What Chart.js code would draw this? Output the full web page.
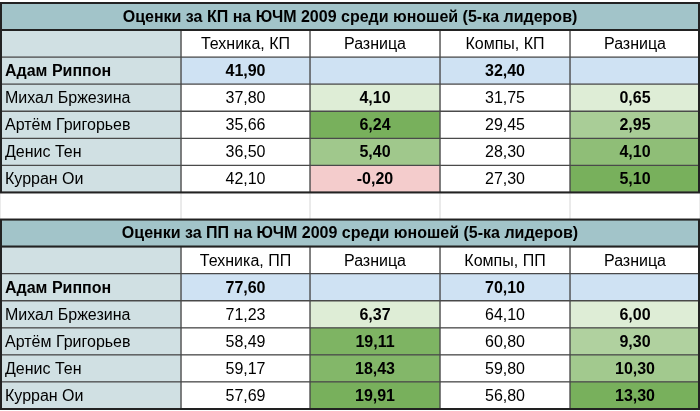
<!DOCTYPE html>
<html>
<head>
<meta charset="utf-8">
<script src="https://cdn.jsdelivr.net/npm/chart.js@4"></script>
<style>
  html, body { margin: 0; padding: 0; background: #fff; }
  #wrap { width: 700px; height: 411px; }
</style>
</head>
<body>
<div id="wrap"><canvas id="tbl"></canvas></div>
<script>
// table data
const titles = ['Оценки за КП на ЮЧМ 2009 среди юношей (5-ка лидеров)', 'Оценки за ПП на ЮЧМ 2009 среди юношей (5-ка лидеров)'];
const headersKP = ['', 'Техника, КП', 'Разница', 'Компы, КП', 'Разница'];
const headersPP = ['', 'Техника, ПП', 'Разница', 'Компы, ПП', 'Разница'];
const names = ['Адам Риппон', 'Михал Бржезина', 'Артём Григорьев', 'Денис Тен', 'Курран Ои'];
const kpTech = [41.90, 37.80, 35.66, 36.50, 42.10];
const kpTechDiff = [null, 4.10, 6.24, 5.40, -0.20];
const kpComp = [32.40, 31.75, 29.45, 28.30, 27.30];
const kpCompDiff = [null, 0.65, 2.95, 4.10, 5.10];
const ppTech = [77.60, 71.23, 58.49, 59.17, 57.69];
const ppTechDiff = [null, 6.37, 19.11, 18.43, 19.91];
const ppComp = [70.10, 64.10, 60.80, 59.80, 56.80];
const ppCompDiff = [null, 6.00, 9.30, 10.30, 13.30];

const colEdges = [0, 181, 310, 440, 570, 700];
const nRows = 15;
const rowLabels = Array.from({length: nRows}, (_, i) => 'r' + i);

function fmt(v) { return v == null ? '' : v.toFixed(2).replace('.', ','); }

// green scale per column, like the sheet's conditional formatting
function greenFor(v, arr) {
  if (v < 0) return '#f4cccc';
  const vals = arr.filter(x => x != null && x >= 0);
  const mn = Math.min(...vals), mx = Math.max(...vals);
  const t = mx > mn ? (v - mn) / (mx - mn) : 0;
  const a = [222, 237, 214], b = [120, 176, 92];
  const c = a.map((q, k) => Math.round(q + (b[k] - q) * t));
  return 'rgb(' + c.join(',') + ')';
}

// cells[row][col] = {text, bg, bold}
const cells = [];
function addBlock(title, headers, cols, start) {
  cells[start] = {title: {text: title, bg: '#a2c4c9', bold: true}};
  cells[start + 1] = headers.map(h => ({text: h, bg: h ? '#ffffff' : '#d0e0e3'}));
  names.forEach((n, i) => {
    const r = [{text: n, bg: '#d0e0e3', bold: i === 0, left: true}];
    cols.forEach((arr, c) => {
      const isDiff = c % 2 === 1;
      let bg = '#ffffff';
      if (i === 0) bg = '#cfe2f3';
      else if (isDiff) bg = greenFor(arr[i], arr);
      r.push({text: fmt(arr[i]), bg: bg, bold: i === 0 || isDiff});
    });
    cells[start + 2 + i] = r;
  });
}
addBlock(titles[0], headersKP, [kpTech, kpTechDiff, kpComp, kpCompDiff], 0);
cells[7] = [0, 1, 2, 3, 4].map(() => ({text: '', bg: '#ffffff', blank: true}));
addBlock(titles[1], headersPP, [ppTech, ppTechDiff, ppComp, ppCompDiff], 8);

const datasets = [];
for (let c = 0; c < 5; c++) {
  datasets.push({
    data: cells.map(r => Array.isArray(r) ? [colEdges[c], colEdges[c + 1]] : null),
    backgroundColor: cells.map(r => Array.isArray(r) ? r[c].bg : 'transparent'),
    borderColor: cells.map(r => Array.isArray(r) && r[c].blank ? '#e2e2e2' : '#4a4a4a'),
    cellInfo: cells.map(r => Array.isArray(r) ? r[c] : null)
  });
}
datasets.push({
  data: cells.map(r => Array.isArray(r) ? null : [0, 700]),
  backgroundColor: '#a2c4c9',
  borderColor: '#4a4a4a',
  cellInfo: cells.map(r => Array.isArray(r) ? null : r.title)
});

const textPlugin = {
  id: 'cellText',
  afterDatasetsDraw(chart) {
    const ctx = chart.ctx;
    ctx.save();
    ctx.textBaseline = 'middle';
    chart.data.datasets.forEach((ds, di) => {
      chart.getDatasetMeta(di).data.forEach((el, i) => {
        const info = ds.cellInfo[i];
        if (!info || !info.text || ds.data[i] == null) return;
        const x0 = Math.min(el.base, el.x), x1 = Math.max(el.base, el.x);
        ctx.fillStyle = '#000';
        ctx.font = (info.bold ? 'bold ' : '') + '16px "Liberation Sans", Arial, sans-serif';
        if (info.left) { ctx.textAlign = 'left'; ctx.fillText(info.text, x0 + 5, el.y + 1); }
        else { ctx.textAlign = 'center'; ctx.fillText(info.text, (x0 + x1) / 2, el.y + 1); }
      });
    });
    // thick outline around each table block
    const ys = chart.scales.y, xs = chart.scales.x;
    const h = ys.getPixelForValue(1) - ys.getPixelForValue(0);
    ctx.strokeStyle = '#222';
    ctx.lineWidth = 2;
    [[0, 6], [8, 14]].forEach(([a, b]) => {
      const top = ys.getPixelForValue(a) - h / 2, bot = ys.getPixelForValue(b) + h / 2;
      ctx.strokeRect(xs.getPixelForValue(0) + 1, top, xs.getPixelForValue(700) - xs.getPixelForValue(0) - 2, bot - top);
      ctx.beginPath();
      ctx.moveTo(xs.getPixelForValue(0), top + h); ctx.lineTo(xs.getPixelForValue(700), top + h);
      ctx.stroke();
    });
    ctx.restore();
  }
};

new Chart(document.getElementById('tbl'), {
  type: 'bar',
  data: {labels: rowLabels, datasets: datasets},
  options: {
    indexAxis: 'y',
    responsive: true,
    maintainAspectRatio: false,
    animation: false,
    layout: {padding: {top: 3, bottom: 2, left: 0, right: 0}},
    datasets: {bar: {grouped: false, categoryPercentage: 1, barPercentage: 1, borderWidth: 1, borderSkipped: false}},
    scales: {
      x: {type: 'linear', min: 0, max: 700, display: false},
      y: {type: 'category', display: false}
    },
    plugins: {legend: {display: false}, tooltip: {enabled: false}}
  },
  plugins: [textPlugin]
});
</script>
</body>
</html>
